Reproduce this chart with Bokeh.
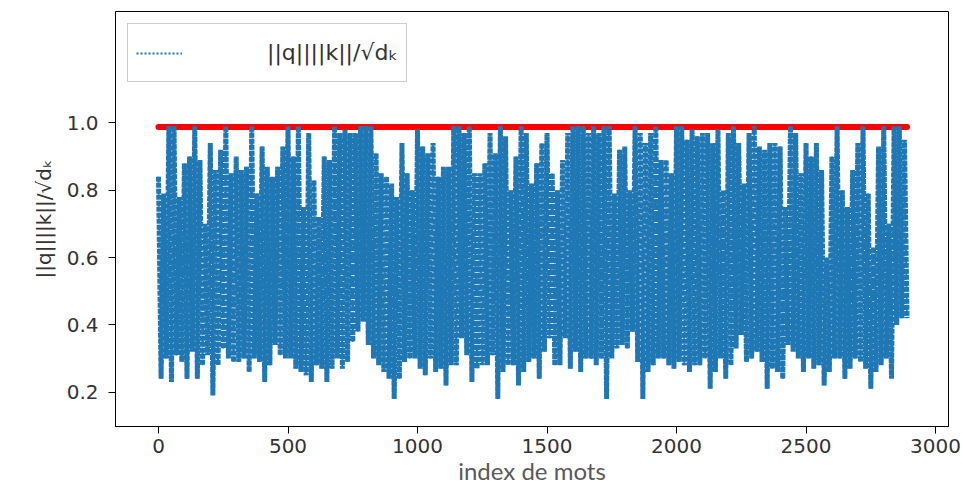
from bokeh.plotting import figure
from bokeh.models import Range1d, Legend, LegendItem, FixedTicker, NumeralTickFormatter
from bokeh.embed import file_html
from bokeh.resources import INLINE

# --- data -----------------------------------------------------------------
# local maxima (at index 20*k) and local minima (at index 20*k+10)
upper = [
    0.84, 0.79, 0.99, 0.99, 0.78, 0.88, 0.90, 0.99, 0.89, 0.70, 0.94, 0.86, 0.92, 0.99, 0.85, 0.90, 0.86,
    0.87, 0.99, 0.79, 0.93, 0.87, 0.84, 0.87, 0.93, 0.99, 0.90, 0.99, 0.75, 0.97, 0.83, 0.72, 0.90, 0.89, 0.99,
    0.97, 0.98, 0.97, 0.97, 0.99, 0.99, 0.99, 0.91, 0.85, 0.84, 0.82, 0.78, 0.94, 0.85, 0.80, 0.98, 0.93, 0.91,
    0.94, 0.84, 0.87, 0.87, 0.99, 0.99, 0.97, 0.99, 0.85, 0.85, 0.88, 0.97, 0.91, 0.99, 0.96, 0.80, 0.90, 0.99, 0.97,
    0.82, 0.88, 0.94, 0.97, 0.85, 0.80, 0.89, 0.97, 0.99, 0.99, 0.99, 0.97, 0.99, 0.97, 0.99, 0.99, 0.79, 0.92,
    0.93, 0.80, 0.99, 0.97, 0.94, 0.97, 0.99, 0.89, 0.89, 0.85, 0.99, 0.99, 0.95, 0.98, 0.96, 0.97, 0.97, 0.94, 0.98,
    0.80, 0.97, 0.99, 0.94, 0.82, 0.97, 0.99, 0.93, 0.92, 0.94, 0.94, 0.93, 0.75, 0.99, 0.97, 0.85, 0.94, 0.90,
    0.94, 0.86, 0.60, 0.90, 0.99, 0.80, 0.75, 0.86, 0.94, 0.99, 0.79, 0.63, 0.93, 0.99, 0.70, 0.99, 0.99, 0.95,
]
lower = [
    0.24, 0.30, 0.23, 0.31, 0.29, 0.24, 0.32, 0.24, 0.28, 0.31, 0.19, 0.28, 0.33, 0.30, 0.29, 0.29, 0.30,
    0.26, 0.30, 0.29, 0.23, 0.28, 0.34, 0.31, 0.30, 0.30, 0.27, 0.26, 0.25, 0.23, 0.28, 0.27, 0.23, 0.27, 0.30,
    0.27, 0.29, 0.35, 0.38, 0.41, 0.34, 0.30, 0.28, 0.26, 0.24, 0.18, 0.24, 0.29, 0.30, 0.30, 0.27, 0.25, 0.30,
    0.26, 0.27, 0.22, 0.28, 0.28, 0.36, 0.31, 0.23, 0.27, 0.28, 0.28, 0.31, 0.18, 0.26, 0.28, 0.28, 0.22, 0.26, 0.29,
    0.30, 0.24, 0.32, 0.36, 0.28, 0.28, 0.36, 0.27, 0.32, 0.26, 0.30, 0.30, 0.28, 0.30, 0.18, 0.30, 0.33, 0.34,
    0.33, 0.38, 0.29, 0.18, 0.26, 0.28, 0.30, 0.30, 0.28, 0.27, 0.29, 0.28, 0.26, 0.28, 0.28, 0.30, 0.21, 0.26, 0.30,
    0.24, 0.28, 0.33, 0.37, 0.29, 0.30, 0.32, 0.29, 0.21, 0.27, 0.26, 0.24, 0.34, 0.32, 0.30, 0.26, 0.30, 0.27,
    0.28, 0.22, 0.26, 0.30, 0.30, 0.24, 0.27, 0.30, 0.29, 0.27, 0.21, 0.26, 0.28, 0.30, 0.24, 0.40, 0.42, 0.42,
]
sample_step = 20            # index units between two local maxima
max_x = [0, 2890]           # red reference line (maximum value)
max_y = [0.988, 0.988]
x_ticks = [0, 500, 1000, 1500, 2000, 2500, 3000]
y_ticks = [0.2, 0.4, 0.6, 0.8, 1.0]
series_label = "||q||||k||/√dₖ"
x_label = "index de mots"

xs, ys = [], []
for k, (u, l) in enumerate(zip(upper, lower)):
    xs += [k * sample_step, k * sample_step + sample_step / 2]
    ys += [u, l]

# --- figure ------------------------------------------------------------------
p = figure(width=962, height=487, output_backend="svg", toolbar_location=None,
           x_range=Range1d(-166, 3050), y_range=Range1d(0.098, 1.331),
           min_border_left=115, min_border_right=14, min_border_top=11, min_border_bottom=60)
p.background_fill_color = "white"
p.border_fill_color = "white"
p.xgrid.visible = False
p.ygrid.visible = False
p.outline_line_color = "black"
p.outline_line_alpha = 1
p.outline_line_width = 1

p.line(max_x, max_y, line_color="red", line_width=6, line_cap="round")
# thin dotted line (used for the legend sample), covered by the dense rendering
legend_sample = p.line(xs, ys, line_color="#1f77b4", line_width=2, line_dash="2 2")
p.line(xs, ys, line_color="#1f77b4", line_width=5, line_dash="5 1", line_join="bevel")

for ax in (p.xaxis[0], p.yaxis[0]):
    ax.axis_line_color = "black"
    ax.major_tick_line_color = "black"
    ax.major_tick_out = 7
    ax.major_tick_in = 0
    ax.minor_tick_line_color = None
    ax.major_label_text_font = "DejaVu Sans"
    ax.major_label_text_font_size = "20px"
    ax.major_label_text_color = "#333333"

p.xaxis.ticker = FixedTicker(ticks=x_ticks)
p.yaxis.ticker = FixedTicker(ticks=y_ticks)
p.yaxis.formatter = NumeralTickFormatter(format="0.0")
p.xaxis.major_label_standoff = 5
p.yaxis.major_label_standoff = 10

p.xaxis.axis_label = x_label
p.xaxis.axis_label_text_font = "Lato"
p.xaxis.axis_label_text_font_size = "24px"
p.xaxis.axis_label_text_font_style = "normal"
p.xaxis.axis_label_text_color = "#595959"
p.xaxis.axis_label_standoff = 0

p.yaxis.axis_label = series_label
p.yaxis.axis_label_text_font = "DejaVu Sans"
p.yaxis.axis_label_text_font_size = "20px"
p.yaxis.axis_label_text_font_style = "normal"
p.yaxis.axis_label_text_color = "#333333"
p.yaxis.axis_label_standoff = 8

legend = Legend(items=[LegendItem(label=series_label, renderers=[legend_sample])],
                location="top_left", margin=12, padding=8,
                glyph_width=46, label_standoff=85, label_height=41,
                label_text_font="DejaVu Sans", label_text_font_size="22px",
                label_text_color="#333333",
                border_line_color="#cccccc", border_line_alpha=1,
                background_fill_color="white", background_fill_alpha=1)
p.add_layout(legend)

open("out.html", "w").write(file_html(p, INLINE))
